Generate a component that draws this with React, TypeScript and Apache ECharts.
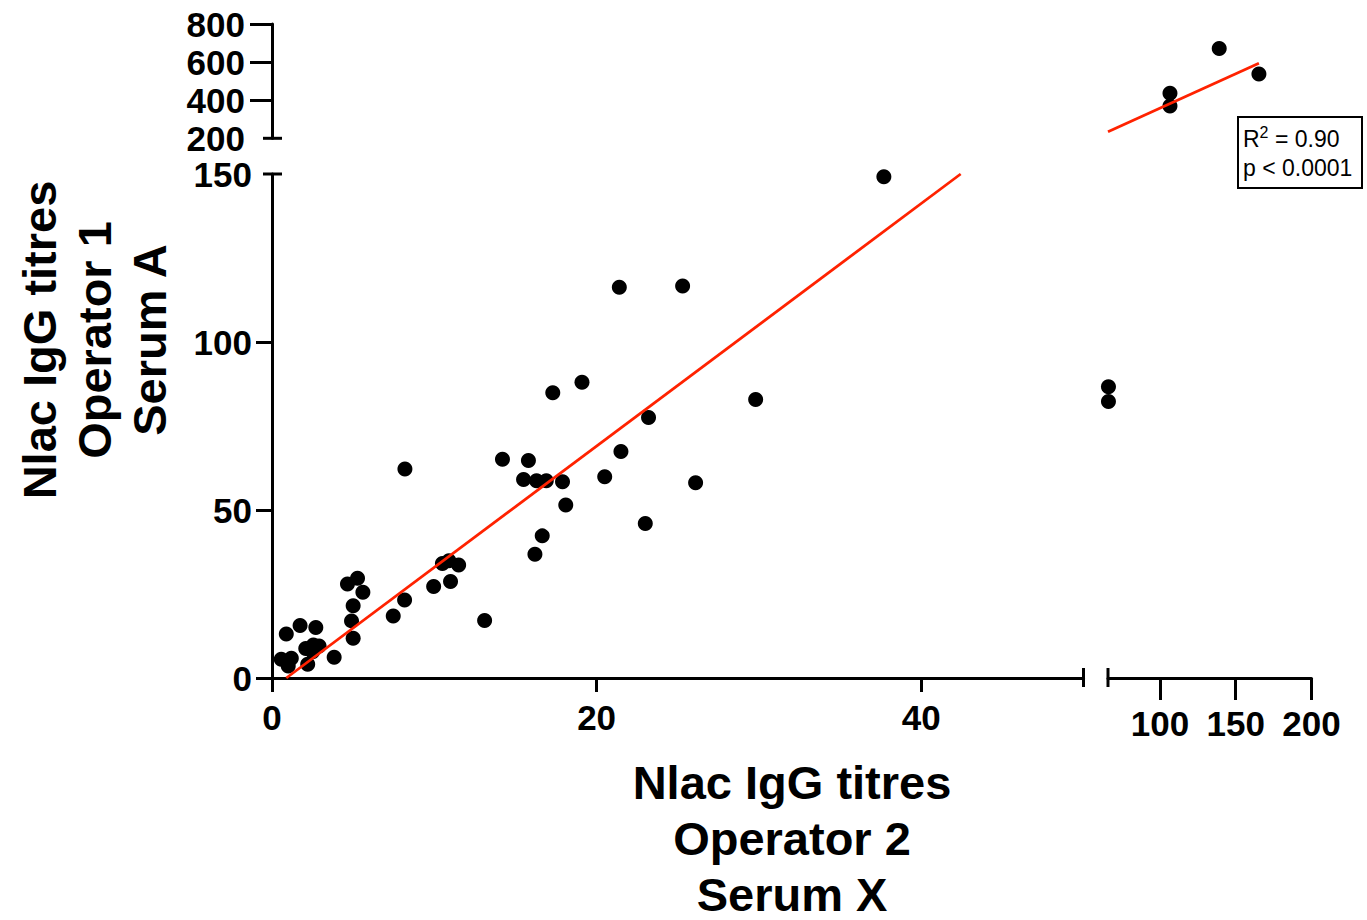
import React, { useEffect, useRef } from "react";
import * as echarts from "echarts";

// ---- data ----
const lowerLeftX = [
  0.57, 1.19, 1.0, 0.88, 1.73, 2.2, 2.08, 2.5, 2.55, 2.9, 2.7, 3.83, 4.65, 5.27, 5.6, 5.0, 4.9, 5.0,
  7.47, 8.17, 8.19, 9.96, 10.5, 10.9, 11.5, 11.0, 13.1, 14.2, 15.8, 15.5, 16.3, 16.9, 17.9, 18.1,
  16.65, 16.2, 17.3, 19.1, 20.5, 21.5, 21.4, 23.2, 23.0, 25.3, 26.1, 29.8, 37.7,
];
const lowerLeftY = [
  5.6, 5.9, 3.6, 13.1, 15.6, 4.1, 8.8, 7.8, 9.8, 9.5, 15.0, 6.2, 28.0, 29.7, 25.5, 21.5, 17.0, 11.8,
  18.45, 23.2, 62.2, 27.2, 34.1, 34.9, 33.6, 28.7, 17.1, 65.1, 64.7, 59.1, 58.7, 58.7, 58.4, 51.5,
  42.3, 36.8, 84.9, 88.0, 59.9, 67.4, 116.3, 77.5, 46.0, 116.7, 58.1, 82.9, 149.2,
];
const lowerRightX = [66, 66];
const lowerRightY = [86.7, 82.3];
const upperRightX = [106.6, 106.6, 139.1, 165.3];
const upperRightY = [436, 369.6, 672, 537.5];

const fitSlope = 3.61;
const fitIntercept = -3.18;

const leftXTicks = [0, 20, 40];
const rightXTicks = [100, 150, 200];
const lowerYTicks = [0, 50, 100, 150];
const upperYTicks = [200, 400, 600, 800];

const leftXRange = [0, 50];
const rightXRange = [65.7, 200];
const lowerYRange = [0, 150];
const upperYRange = [200, 800];

const xTitle = ["Nlac IgG titres", "Operator 2", "Serum X"];
const yTitle = ["Nlac IgG titres", "Operator 1", "Serum A"];
const statR2 = "0.90";
const statP = "< 0.0001";

// ---- layout ----
const L = 272;
const LW = 811.5;
const R0 = 1108;
const RW = 203.5;
const LOW_TOP = 174;
const LOW_H = 504;
const UP_TOP = 24;
const UP_H = 114.3;
const FONT = '"Liberation Sans", Arial, Helvetica, sans-serif';
const RED = "#ff2200";
const DOT = 15;

const zip = (xs: number[], ys: number[]) => xs.map((x, i) => [x, ys[i]]);
const fit = (x: number) => fitSlope * x + fitIntercept;
const inv = (y: number) => (y - fitIntercept) / fitSlope;

function axisBase(tickLen: number, margin: number, ticks: number[], labels: number[]) {
  return {
    type: "value" as const,
    axisLine: { show: true, onZero: false, lineStyle: { color: "#000", width: 3 } },
    axisTick: { show: true, length: tickLen, customValues: ticks, lineStyle: { color: "#000", width: 3 } },
    axisLabel: {
      show: true,
      customValues: labels,
      color: "#000",
      fontSize: 35,
      fontWeight: "bold" as const,
      fontFamily: FONT,
      margin,
    },
    splitLine: { show: false },
  };
}

const hidden = (range: number[]) => ({
  type: "value" as const,
  show: false,
  min: range[0],
  max: range[1],
  splitLine: { show: false },
});

export default function App() {
  const ref = useRef<HTMLDivElement>(null);
  useEffect(() => {
    if (!ref.current) return;
    const chart = echarts.init(ref.current, null, { renderer: "svg" });
    const maxRightX = Math.max(...upperRightX);
    const capStyle = { stroke: "#000", lineWidth: 3 };
    const dotStyle = { color: "#000", opacity: 1 };
    const option: any = {
      animation: false,
      backgroundColor: "#fff",
      grid: [
        { left: L, top: LOW_TOP, width: LW, height: LOW_H },
        { left: R0, top: LOW_TOP, width: RW, height: LOW_H },
        { left: R0, top: UP_TOP, width: RW, height: UP_H },
        { left: L, top: UP_TOP, width: LW, height: UP_H },
      ],
      xAxis: [
        {
          ...axisBase(14, 22, leftXTicks, leftXTicks),
          gridIndex: 0,
          min: leftXRange[0],
          max: leftXRange[1],
        },
        {
          ...axisBase(22, 28, rightXTicks, rightXTicks),
          gridIndex: 1,
          min: rightXRange[0],
          max: rightXRange[1],
        },
        { ...hidden(rightXRange), gridIndex: 2 },
        { ...hidden(leftXRange), gridIndex: 3 },
      ],
      yAxis: [
        {
          ...axisBase(16, 20, lowerYTicks.slice(0, -1), lowerYTicks),
          gridIndex: 0,
          min: lowerYRange[0],
          max: lowerYRange[1],
        },
        { ...hidden(lowerYRange), gridIndex: 1 },
        { ...hidden(upperYRange), gridIndex: 2 },
        {
          ...axisBase(22, 27, upperYTicks.slice(1), upperYTicks),
          gridIndex: 3,
          min: upperYRange[0],
          max: upperYRange[1],
        },
      ],
      series: [
        {
          type: "scatter",
          xAxisIndex: 0,
          yAxisIndex: 0,
          symbolSize: DOT,
          itemStyle: dotStyle,
          data: zip(lowerLeftX, lowerLeftY),
          z: 2,
        },
        {
          type: "scatter",
          xAxisIndex: 1,
          yAxisIndex: 1,
          symbolSize: DOT,
          itemStyle: dotStyle,
          data: zip(lowerRightX, lowerRightY),
          z: 2,
        },
        {
          type: "scatter",
          xAxisIndex: 2,
          yAxisIndex: 2,
          symbolSize: DOT,
          itemStyle: dotStyle,
          data: zip(upperRightX, upperRightY),
          z: 2,
        },
        {
          type: "line",
          xAxisIndex: 0,
          yAxisIndex: 0,
          symbol: "none",
          lineStyle: { color: RED, width: 2.8 },
          data: [
            [inv(lowerYRange[0]), lowerYRange[0]],
            [inv(lowerYRange[1]), lowerYRange[1]],
          ],
          z: 3,
        },
        {
          type: "line",
          xAxisIndex: 2,
          yAxisIndex: 2,
          symbol: "none",
          lineStyle: { color: RED, width: 2.8 },
          data: [
            [rightXRange[0], fit(rightXRange[0])],
            [maxRightX, fit(maxRightX)],
          ],
          z: 3,
        },
      ],
      graphic: [
        // axis break caps
        { type: "line", shape: { x1: L - 9, y1: LOW_TOP, x2: L + 10, y2: LOW_TOP }, style: capStyle },
        { type: "line", shape: { x1: L - 9, y1: UP_TOP + UP_H, x2: L + 10, y2: UP_TOP + UP_H }, style: capStyle },
        {
          type: "line",
          shape: { x1: L + LW, y1: LOW_TOP + LOW_H - 10, x2: L + LW, y2: LOW_TOP + LOW_H + 9 },
          style: capStyle,
        },
        {
          type: "line",
          shape: { x1: R0, y1: LOW_TOP + LOW_H - 10, x2: R0, y2: LOW_TOP + LOW_H + 9 },
          style: capStyle,
        },
        // titles
        {
          type: "text",
          x: 792,
          y: 838,
          style: {
            text: xTitle.join("\n"),
            fontSize: 47,
            fontWeight: "bold",
            fontFamily: FONT,
            fill: "#000",
            align: "center",
            verticalAlign: "middle",
            lineHeight: 56,
          },
        },
        {
          type: "text",
          x: 94,
          y: 340,
          rotation: Math.PI / 2,
          style: {
            text: yTitle.join("\n"),
            fontSize: 47,
            fontWeight: "bold",
            fontFamily: FONT,
            fill: "#000",
            align: "center",
            verticalAlign: "middle",
            lineHeight: 55,
          },
        },
        // stats box
        {
          type: "rect",
          shape: { x: 1238, y: 117, width: 124, height: 71 },
          style: { fill: "#fff", stroke: "#000", lineWidth: 2 },
          z: 10,
        },
        {
          type: "text",
          x: 1243,
          y: 153,
          z: 11,
          style: {
            text: `{a|R}{s|2}{a| = ${statR2}}\n{a|p ${statP}}`,
            fill: "#000",
            align: "left",
            verticalAlign: "middle",
            rich: {
              a: { fontSize: 23, fontFamily: FONT, lineHeight: 29, fill: "#000" },
              s: { fontSize: 16, fontFamily: FONT, lineHeight: 29, verticalAlign: "top", fill: "#000" },
            },
          },
        },
      ],
    };
    chart.setOption(option);
    return () => chart.dispose();
  }, []);
  return (
    <div
      ref={ref}
      style={{ position: "fixed", left: 0, top: 0, width: 1367, height: 920, background: "#fff" }}
    />
  );
}
